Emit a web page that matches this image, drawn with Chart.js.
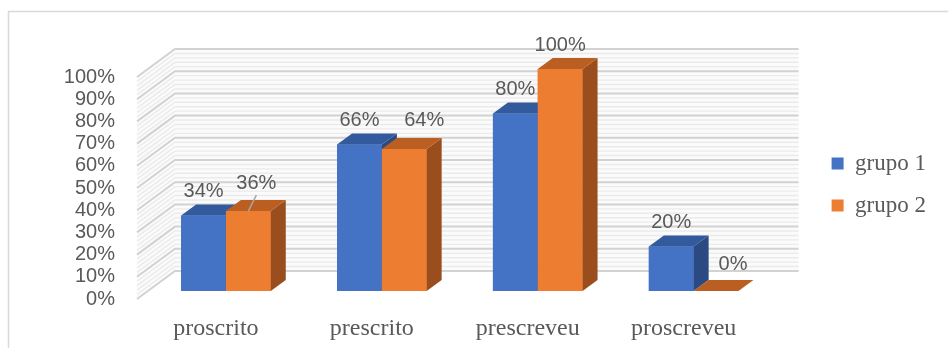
<!DOCTYPE html>
<html>
<head>
<meta charset="utf-8">
<script src="https://cdn.jsdelivr.net/npm/chart.js@4.4.1/dist/chart.umd.min.js"></script>
<style>
  html, body { margin: 0; padding: 0; background: #ffffff; }
  #wrap { width: 948px; height: 348px; position: relative; }
</style>
</head>
<body>
<div id="wrap"><canvas id="c" width="948" height="348"></canvas></div>
<script>
// ---- data ----
const categories = ['proscrito', 'prescrito', 'prescreveu', 'proscreveu'];
const seriesNames = ['grupo 1', 'grupo 2'];
const grupo1 = [34, 66, 80, 20];
const grupo2 = [36, 64, 100, 0];
const yMax = 100;
const yStep = 10;

// ---- 3D look ----
const BAR_DEPTH = { dx: 15, dy: 11 };     // extrusion of each bar
const WALL_DEPTH = { dx: 27, dy: 20 };    // back wall behind the bar plane
const FRONT_EDGE = { dx: -11, dy: 8 };    // front edge of the side wall
const faceColors = [
  { front: '#4472C4', top: '#335A9C', side: '#2B4A82' },
  { front: '#ED7D31', top: '#BA5E22', side: '#9A4E1D' }
];
// per-label nudges (dataset, index) for labels that sit beside their bar
const labelNudges = [
  [[0, 0], [0, 0], [0, 0], [0, 0]],
  [[8, -4], [20, -4], [0, 0], [17, -3]]
];
const leaderLines = [[1, 0]];

const TEXT = '#595959';
const SANS = "'Liberation Sans', Arial, sans-serif";
const SERIF = "'Liberation Serif', 'Times New Roman', serif";

// frame around the chart
const framePlugin = {
  id: 'frame',
  beforeDraw(chart) {
    const ctx = chart.ctx;
    ctx.save();
    ctx.strokeStyle = '#d9d9d9';
    ctx.lineWidth = 1.5;
    ctx.beginPath();
    ctx.moveTo(8.5, chart.height);
    ctx.lineTo(8.5, 11.5);
    ctx.lineTo(chart.width, 11.5);
    ctx.stroke();
    ctx.restore();
  }
};

// back wall and left side wall with striped gridlines
const wallsPlugin = {
  id: 'walls',
  beforeDatasetsDraw(chart) {
    const { ctx, chartArea } = chart;
    const ys = chart.scales.y;
    const L = chartArea.left, R = chartArea.right;
    const top = ys.getPixelForValue(yMax), bot = ys.getPixelForValue(0);
    ctx.save();
    // back wall
    ctx.fillStyle = '#fbfbfb';
    ctx.fillRect(L + WALL_DEPTH.dx, top - WALL_DEPTH.dy, R - L, bot - top);
    // side wall
    ctx.beginPath();
    ctx.moveTo(L + FRONT_EDGE.dx, top + FRONT_EDGE.dy);
    ctx.lineTo(L + WALL_DEPTH.dx, top - WALL_DEPTH.dy);
    ctx.lineTo(L + WALL_DEPTH.dx, bot - WALL_DEPTH.dy);
    ctx.lineTo(L + FRONT_EDGE.dx, bot + FRONT_EDGE.dy);
    ctx.closePath();
    ctx.fill();

    const line = (v, color, w) => {
      const p = ys.getPixelForValue(v);
      ctx.strokeStyle = color;
      ctx.lineWidth = w;
      ctx.beginPath();
      ctx.moveTo(L + FRONT_EDGE.dx, p + FRONT_EDGE.dy);
      ctx.lineTo(L + WALL_DEPTH.dx, p - WALL_DEPTH.dy);
      ctx.lineTo(R + WALL_DEPTH.dx, p - WALL_DEPTH.dy);
      ctx.stroke();
    };
    // fine stripes
    for (let v = 0; v <= yMax; v += yStep / 5) {
      if (v % yStep !== 0) line(v, '#ebebeb', 1.4);
    }
    // major gridlines
    ys.ticks.forEach(t => line(t.value, '#d2d2d2', 2));
    ctx.restore();
  }
};

// bars painted back to front per series: front face, then side and top
const bar3dPlugin = {
  id: 'bar3d',
  afterDatasetsDraw(chart) {
    const ctx = chart.ctx;
    const { dx, dy } = BAR_DEPTH;
    ctx.save();
    chart.data.datasets.forEach((ds, di) => {
      const colors = faceColors[di];
      chart.getDatasetMeta(di).data.forEach(el => {
        const { x, y, base, width } = el.getProps(['x', 'y', 'base', 'width'], true);
        const l = x - width / 2, r = x + width / 2;
        el.draw(ctx);
        // side
        ctx.fillStyle = colors.side;
        ctx.beginPath();
        ctx.moveTo(r, y);
        ctx.lineTo(r + dx, y - dy);
        ctx.lineTo(r + dx, base - dy);
        ctx.lineTo(r, base);
        ctx.closePath();
        ctx.fill();
        // top
        ctx.fillStyle = colors.top;
        ctx.beginPath();
        ctx.moveTo(l, y);
        ctx.lineTo(r, y);
        ctx.lineTo(r + dx, y - dy);
        ctx.lineTo(l + dx, y - dy);
        ctx.closePath();
        ctx.fill();
      });
    });
    ctx.restore();
  }
};

// value labels above the bars
const valueLabelPlugin = {
  id: 'valueLabels',
  afterDatasetsDraw(chart) {
    const ctx = chart.ctx;
    ctx.save();
    ctx.font = '20px ' + SANS;
    ctx.fillStyle = TEXT;
    ctx.textAlign = 'center';
    ctx.textBaseline = 'middle';
    chart.data.datasets.forEach((ds, di) => {
      const meta = chart.getDatasetMeta(di);
      meta.data.forEach((el, i) => {
        const { x, y } = el.getProps(['x', 'y'], true);
        const [nx, ny] = labelNudges[di][i];
        const lx = x + nx, ly = y - 24 + ny;
        ctx.fillText(ds.data[i] + '%', lx, ly);
        if (leaderLines.some(([d, k]) => d === di && k === i)) {
          ctx.strokeStyle = '#a6a6a6';
          ctx.lineWidth = 1.5;
          ctx.beginPath();
          ctx.moveTo(lx, ly + 12);
          ctx.lineTo(x, y);
          ctx.stroke();
        }
      });
    });
    ctx.restore();
  }
};

new Chart(document.getElementById('c'), {
  type: 'bar',
  data: {
    labels: categories,
    datasets: [
      { label: seriesNames[0], data: grupo1, backgroundColor: faceColors[0].front, borderWidth: 0 },
      { label: seriesNames[1], data: grupo2, backgroundColor: faceColors[1].front, borderWidth: 0 }
    ]
  },
  options: {
    responsive: false,
    animation: false,
    events: [],
    datasets: { bar: { categoryPercentage: 0.575, barPercentage: 1 } },
    layout: { padding: { top: 69, left: 0, right: 12, bottom: 0 } },
    scales: {
      x: {
        grid: { display: false },
        border: { display: false },
        ticks: { color: TEXT, font: { family: SERIF, size: 24 }, padding: 15, labelOffset: -10 },
        afterFit(scale) { scale.height = 57; }
      },
      y: {
        min: 0, max: yMax,
        grid: { display: false },
        border: { display: false },
        ticks: {
          stepSize: yStep, autoSkip: false, padding: 25, labelOffset: 8,
          color: TEXT, font: { family: SANS, size: 20 },
          callback: v => v + '%'
        },
        afterFit(scale) { scale.width = 148; }
      },
      gap: {
        position: 'right',
        display: true,
        grid: { display: false },
        border: { display: false },
        ticks: { display: false },
        afterFit(scale) { scale.width = 41; }
      }
    },
    plugins: {
      legend: {
        position: 'right',
        fullSize: false,
        title: { display: true, text: '', padding: 4, font: { size: 1 } },
        labels: {
          boxWidth: 12, boxHeight: 12, padding: 19,
          color: TEXT, font: { family: SERIF, size: 23 }
        }
      },
      tooltip: { enabled: false }
    }
  },
  plugins: [framePlugin, wallsPlugin, bar3dPlugin, valueLabelPlugin]
});
</script>
</body>
</html>
